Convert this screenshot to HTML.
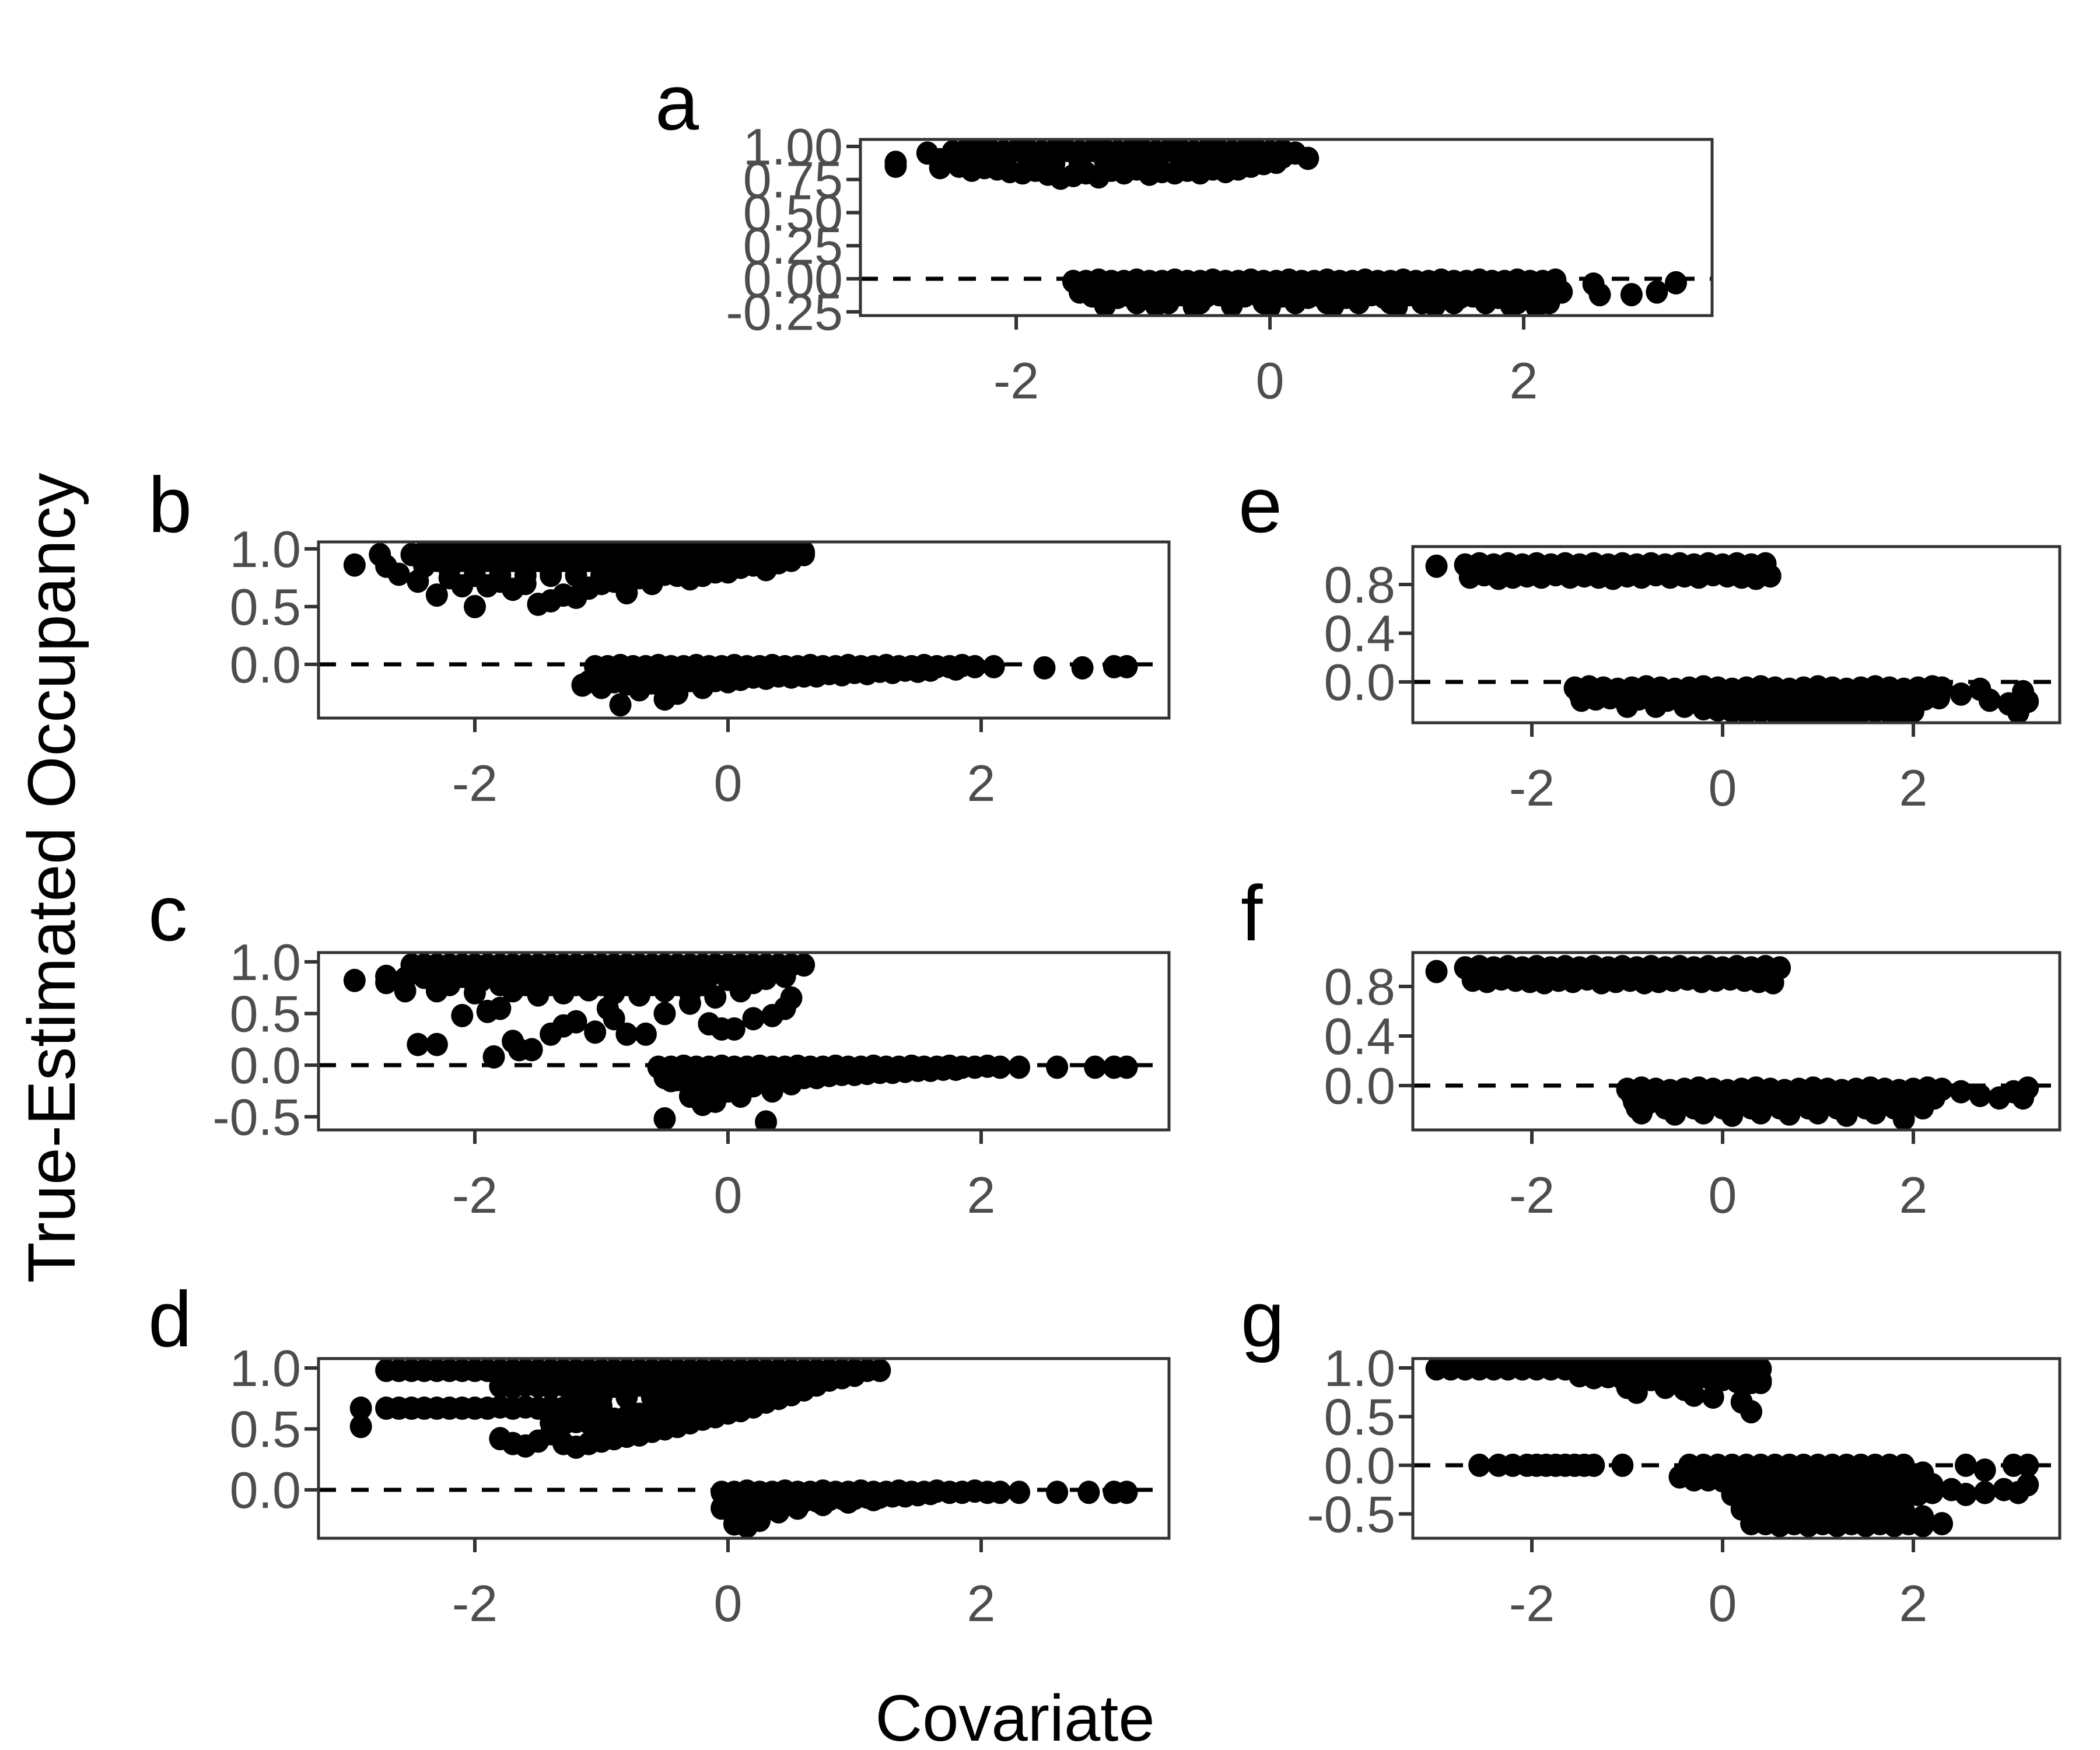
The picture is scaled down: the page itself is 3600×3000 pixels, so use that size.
<!DOCTYPE html>
<html><head><meta charset="utf-8">
<style>
html,body{margin:0;padding:0;background:#fff;}
svg{display:block;font-family:"Liberation Sans",Arial,sans-serif;}
</style></head>
<body>
<svg id="chart" width="3600" height="3000" viewBox="0 0 3600 3000" xmlns="http://www.w3.org/2000/svg">
<rect x="0" y="0" width="3600" height="3000" fill="#fff"/>
<text x="1740" y="2984" font-size="112" text-anchor="middle" fill="#000">Covariate</text>
<text transform="translate(128,1505) rotate(-90)" font-size="115" text-anchor="middle" fill="#000">True-Estimated Occupancy</text>
</svg>
<script>
// ---------- data ----------
const xTickValues=[-2,0,2];
const xTickLabels=["-2","0","2"];
const aTickValues=[1,0.75,0.5,0.25,0,-0.25];
const aTickLabels=["1.00","0.75","0.50","0.25","0.00","-0.25"];
const bcdTickValues=[1,0.5,0,-0.5];
const bcdTickLabels=["1.0","0.5","0.0","-0.5"];
const efTickValues=[0.8,0.4,0];
const efTickLabels=["0.8","0.4","0.0"];

const aX=[-2.95,-2.7,-2.6,-2.5,-2.4,-2.3,-2.2,-2.1,-2.0,-1.9,-1.8,-1.7,-1.6,-1.5,-1.4,-1.3,-1.2,-1.1,-1.0,-0.9,-0.8,-0.7,-0.6,-0.5,-0.4,-0.3,-0.2,-0.1,0.0,0.1,0.2,0.3,
-2.95,-2.6,-2.45,-2.35,-2.25,-2.15,-2.05,-1.95,-1.85,-1.75,-1.65,-1.55,-1.45,-1.35,-1.25,-1.15,-1.05,-0.95,-0.85,-0.75,-0.65,-0.55,-0.45,-0.35,-0.25,-0.15,-0.05,0.05,
-1.55,-1.45,-1.35,-1.25,-1.15,-1.05,-0.95,-0.85,-0.75,-0.65,-0.55,-0.45,-0.35,-0.25,-0.15,-0.05,0.05,0.15,0.25,0.35,0.45,0.55,0.65,0.75,0.85,0.95,1.05,1.15,1.25,1.35,1.45,1.55,1.65,1.75,1.85,1.95,2.05,2.15,2.25,
-1.5,-1.4,-1.3,-1.2,-1.1,-1.0,-0.9,-0.8,-0.7,-0.6,-0.5,-0.4,-0.3,-0.2,-0.1,0.0,0.1,0.2,0.3,0.4,0.5,0.6,0.7,0.8,0.9,1.0,1.1,1.2,1.3,1.4,1.5,1.6,1.7,1.8,1.9,2.0,2.1,2.2,2.3,
-1.3,-0.9,-0.6,-0.3,0.0,0.5,1.0,1.3,1.9,2.1,2.55,2.6,2.85,3.05,3.2];
const aY=[0.88,0.95,0.9,0.96,0.97,0.97,0.97,0.96,0.97,0.97,0.96,0.97,0.97,0.96,0.97,0.97,0.96,0.97,0.97,0.96,0.97,0.97,0.96,0.97,0.97,0.96,0.97,0.97,0.96,0.97,0.95,0.91,
0.85,0.84,0.85,0.82,0.84,0.83,0.81,0.8,0.82,0.79,0.76,0.78,0.8,0.77,0.82,0.8,0.83,0.79,0.81,0.8,0.82,0.8,0.83,0.81,0.83,0.85,0.87,0.88,
-0.02,-0.02,-0.01,-0.02,-0.02,-0.01,-0.02,-0.02,-0.01,-0.02,-0.02,-0.01,-0.02,-0.02,-0.01,-0.02,-0.02,-0.01,-0.02,-0.02,-0.01,-0.02,-0.02,-0.01,-0.02,-0.02,-0.01,-0.02,-0.02,-0.01,-0.02,-0.02,-0.01,-0.02,-0.02,-0.01,-0.02,-0.02,-0.01,
-0.1,-0.13,-0.12,-0.14,-0.13,-0.12,-0.14,-0.13,-0.12,-0.14,-0.13,-0.12,-0.14,-0.13,-0.12,-0.14,-0.13,-0.12,-0.14,-0.13,-0.12,-0.14,-0.13,-0.12,-0.14,-0.13,-0.12,-0.14,-0.13,-0.12,-0.14,-0.13,-0.12,-0.14,-0.13,-0.12,-0.14,-0.13,-0.1,
-0.2,-0.2,-0.21,-0.2,-0.21,-0.2,-0.21,-0.2,-0.2,-0.21,-0.04,-0.12,-0.12,-0.1,-0.03];
const aFillX=[-2.5,-2.3,-2.1,-1.9,-1.7,-1.5,-1.3,-1.1,-0.9,-0.7,-0.5,-0.3,-0.1,0.1,
-1.5,-1.3,-1.1,-0.9,-0.7,-0.5,-0.3,-0.1,0.1,0.3,0.5,0.7,0.9,1.1,1.3,1.5,1.7,1.9,2.1,
-1.3,-1.05,-0.8,-0.55,-0.3,-0.05,0.2,0.45,0.7,0.95,1.2,1.45,1.7,1.95,2.2];
const aFillY=[0.9,0.89,0.9,0.88,0.87,0.88,0.89,0.88,0.89,0.88,0.9,0.9,0.91,0.92,
-0.07,-0.07,-0.07,-0.07,-0.07,-0.07,-0.07,-0.07,-0.07,-0.07,-0.07,-0.07,-0.07,-0.07,-0.07,-0.07,-0.07,-0.07,-0.07,
-0.18,-0.18,-0.18,-0.18,-0.18,-0.18,-0.18,-0.18,-0.18,-0.18,-0.18,-0.18,-0.18,-0.18,-0.18];

const bX=[-2.5,-2.4,-2.3,-2.2,-2.1,-2.0,-1.9,-1.8,-1.7,-1.6,-1.5,-1.4,-1.3,-1.2,-1.1,-1.0,-0.9,-0.8,-0.7,-0.6,-0.5,-0.4,-0.3,-0.2,-0.1,0.0,0.1,0.2,0.3,0.4,0.5,0.6,
-2.95,-2.75,-2.7,-2.6,-2.45,-2.3,-2.2,-2.1,-2.0,-1.9,-1.8,-1.7,-1.6,-1.5,-1.4,-1.3,-1.2,-1.1,-1.0,-0.9,-0.8,-0.7,-0.6,-0.5,-0.4,-0.3,-0.2,-0.1,0.0,0.1,0.2,0.3,0.4,0.5,0.6,
-2.4,-2.2,-2.0,-1.8,-1.6,-1.4,-1.2,-1.0,-0.8,-0.6,-0.4,-0.2,0.0,0.2,0.4,
-1.05,-0.95,-0.85,-0.75,-0.65,-0.55,-0.45,-0.35,-0.25,-0.15,-0.05,0.05,0.15,0.25,0.35,0.45,0.55,0.65,0.75,0.85,0.95,1.05,1.15,1.25,1.35,1.45,1.55,1.65,1.75,1.85,1.95,2.1,2.5,2.8,3.05,3.15,
-1.1,-1.0,-0.9,-0.8,-0.7,-0.6,-0.5,-0.4,-0.3,-0.2,-0.1,0.0,0.1,0.2,0.3,0.4,0.5,0.6,0.7,0.8,0.9,1.0,1.1,1.2,1.3,1.4,1.5,1.6,
-1.15,-1.0,-0.85,-0.7,-0.5,-0.4,-0.2,0.0,0.3,0.6];
const bY=[0.95,0.97,0.97,0.97,0.97,0.97,0.97,0.97,0.97,0.97,0.97,0.97,0.97,0.97,0.97,0.97,0.97,0.97,0.97,0.97,0.97,0.97,0.97,0.97,0.97,0.97,0.97,0.97,0.97,0.97,0.97,0.97,
0.86,0.95,0.85,0.78,0.72,0.6,0.75,0.68,0.5,0.68,0.72,0.65,0.7,0.52,0.55,0.6,0.58,0.66,0.7,0.72,0.62,0.75,0.7,0.78,0.8,0.74,0.82,0.8,0.85,0.84,0.86,0.82,0.88,0.92,0.95,
0.85,0.82,0.84,0.85,0.83,0.8,0.82,0.84,0.86,0.82,0.88,0.9,0.9,0.92,0.93,
-0.02,-0.02,-0.01,-0.02,-0.02,-0.01,-0.02,-0.02,-0.01,-0.02,-0.02,-0.01,-0.02,-0.02,-0.01,-0.02,-0.02,-0.01,-0.02,-0.02,-0.01,-0.02,-0.02,-0.01,-0.02,-0.02,-0.01,-0.02,-0.02,-0.01,-0.02,-0.02,-0.03,-0.03,-0.02,-0.02,
-0.15,-0.16,-0.15,-0.17,-0.15,-0.16,-0.14,-0.15,-0.14,-0.13,-0.14,-0.12,-0.13,-0.11,-0.12,-0.1,-0.11,-0.09,-0.1,-0.08,-0.09,-0.07,-0.08,-0.06,-0.07,-0.05,-0.06,-0.05,
-0.18,-0.2,-0.35,-0.22,-0.3,-0.25,-0.2,-0.15,-0.12,-0.1];
const bFillX=[-2.3,-2.1,-1.9,-1.7,-1.5,-1.3,-1.1,-0.9,-0.7,-0.5,-0.3,-0.1,0.1,0.3,0.5,
-2.0,-1.8,-1.6,-1.4,-1.2,-1.0,-0.8,-0.6,-0.4,-0.2,0.0,
-1.0,-0.8,-0.6,-0.4,-0.2,0.0,0.2,0.4,0.6,0.8,1.0,1.2,1.4,1.6,1.8];
const bFillY=[0.9,0.9,0.9,0.9,0.9,0.9,0.9,0.9,0.9,0.9,0.9,0.9,0.9,0.9,0.9,
0.77,0.77,0.77,0.77,0.77,0.77,0.77,0.77,0.77,0.77,0.8,
-0.08,-0.08,-0.08,-0.08,-0.08,-0.08,-0.07,-0.07,-0.06,-0.06,-0.05,-0.05,-0.04,-0.04,-0.04];

const cX=[-2.5,-2.4,-2.3,-2.2,-2.1,-2.0,-1.9,-1.8,-1.7,-1.6,-1.5,-1.4,-1.3,-1.2,-1.1,-1.0,-0.9,-0.8,-0.7,-0.6,-0.5,-0.4,-0.3,-0.2,-0.1,0.0,0.1,0.2,0.3,0.4,0.5,0.6,
-2.7,-2.55,-2.4,-2.25,-2.1,-1.95,-1.8,-1.65,-1.5,-1.35,-1.2,-1.05,-0.9,-0.75,-0.6,-0.45,-0.3,-0.15,0.0,0.15,0.3,0.45,
-2.3,-2.0,-1.7,-1.5,-1.3,-1.1,-0.9,-0.7,-0.5,-0.3,-0.1,0.1,
-2.95,-2.7,-2.55,-2.45,-2.3,-2.1,-1.9,-1.85,-1.8,-1.7,-1.65,-1.55,-1.4,-1.3,-1.2,-1.05,-0.95,-0.9,-0.8,-0.65,-0.5,-0.3,-0.15,-0.05,0.05,0.2,0.35,0.45,0.5,
-0.55,-0.45,-0.35,-0.25,-0.15,-0.05,0.05,0.15,0.25,0.35,0.45,0.55,0.65,0.75,0.85,0.95,1.05,1.15,1.25,1.35,1.45,1.55,1.65,1.75,1.85,1.95,2.05,2.15,2.3,2.6,2.9,3.05,3.15,
-0.5,-0.4,-0.3,-0.2,-0.1,0.0,0.1,0.2,0.3,0.4,0.5,0.6,0.7,0.8,0.9,1.0,1.1,1.2,1.3,1.4,1.5,1.6,1.7,1.8,
-0.45,-0.3,-0.2,-0.1,0.0,0.1,0.2,0.35,0.5,0.7,1.0,-0.5,0.3];
const cY=[0.97,0.97,0.97,0.97,0.97,0.97,0.97,0.97,0.97,0.97,0.97,0.97,0.97,0.97,0.97,0.97,0.97,0.97,0.97,0.97,0.97,0.97,0.97,0.97,0.97,0.97,0.97,0.97,0.97,0.97,0.97,0.97,
0.86,0.84,0.85,0.83,0.86,0.82,0.84,0.85,0.83,0.84,0.86,0.82,0.85,0.84,0.83,0.85,0.84,0.86,0.83,0.85,0.84,0.86,
0.72,0.7,0.72,0.68,0.7,0.73,0.7,0.68,0.72,0.7,0.66,0.72,
0.82,0.8,0.72,0.2,0.2,0.48,0.52,0.08,0.55,0.23,0.15,0.15,0.3,0.38,0.42,0.32,0.55,0.45,0.3,0.3,0.5,0.6,0.4,0.35,0.35,0.45,0.48,0.55,0.65,
-0.02,-0.02,-0.01,-0.02,-0.02,-0.01,-0.02,-0.02,-0.01,-0.02,-0.02,-0.01,-0.02,-0.02,-0.01,-0.02,-0.02,-0.01,-0.02,-0.02,-0.01,-0.02,-0.02,-0.01,-0.02,-0.02,-0.01,-0.02,-0.02,-0.02,-0.02,-0.02,-0.02,
-0.12,-0.14,-0.16,-0.18,-0.17,-0.16,-0.18,-0.15,-0.16,-0.14,-0.13,-0.12,-0.11,-0.1,-0.09,-0.09,-0.08,-0.07,-0.07,-0.06,-0.05,-0.05,-0.04,-0.04,
-0.15,-0.3,-0.38,-0.35,-0.25,-0.3,-0.2,-0.25,-0.18,-0.12,-0.08,-0.52,-0.55];
const cFillX=[-2.4,-2.2,-2.0,-1.8,-1.6,-1.4,-1.2,-1.0,-0.8,-0.6,-0.4,-0.2,0.0,0.2,0.4,
-2.2,-2.0,-1.8,-1.6,-1.4,-1.2,-1.0,-0.8,-0.6,-0.4,-0.2,0.2,
-0.5,-0.3,-0.1,0.1,0.3,0.5,0.7,0.9,1.1,1.3,1.5,1.7];
const cFillY=[0.91,0.91,0.91,0.91,0.91,0.91,0.91,0.91,0.91,0.91,0.91,0.91,0.91,0.91,0.91,
0.78,0.78,0.78,0.78,0.78,0.78,0.78,0.78,0.78,0.78,0.78,0.8,
-0.07,-0.08,-0.08,-0.08,-0.07,-0.06,-0.05,-0.05,-0.04,-0.04,-0.03,-0.03];

const dX=[-2.7,-2.6,-2.5,-2.4,-2.3,-2.2,-2.1,-2.0,-1.9,-1.8,-1.7,-1.6,-1.5,-1.4,-1.3,-1.2,-1.1,-1.0,-0.9,-0.8,-0.7,-0.6,-0.5,-0.4,-0.3,-0.2,-0.1,0.0,0.1,0.2,0.3,0.4,0.5,0.6,0.7,0.8,0.9,1.0,1.1,1.2,
-2.9,-2.9,-2.7,-2.6,-2.5,-2.4,-2.3,-2.2,-2.1,-2.0,-1.9,-1.8,-1.7,-1.6,-1.5,-1.4,-1.3,-1.2,-1.1,-1.0,
-1.8,-1.7,-1.6,-1.5,-1.4,-1.3,-1.2,-1.1,-1.0,-0.9,-0.8,-0.7,-0.6,-0.5,-0.4,-0.3,-0.2,-0.1,0.0,0.1,0.2,0.3,0.4,0.5,0.6,0.7,0.8,0.9,1.0,
-1.8,-1.7,-1.6,-1.5,-1.4,-1.3,-1.2,-1.1,-1.0,-0.9,-0.8,-0.7,-0.6,-0.5,-0.4,-0.3,-0.2,-0.1,0.0,0.1,0.2,0.3,0.4,0.5,0.6,0.7,0.8,0.9,1.0,
-1.4,-1.3,-1.2,-1.1,-1.0,-0.9,-0.8,-0.7,-0.6,-0.5,-0.4,-0.3,-0.2,-0.1,0.0,0.1,0.2,0.3,
-0.05,0.05,0.15,0.25,0.35,0.45,0.55,0.65,0.75,0.85,0.95,1.05,1.15,1.25,1.35,1.45,1.55,1.65,1.75,1.85,1.95,2.05,2.15,2.3,2.6,2.85,3.05,3.15,
0.0,0.1,0.2,0.3,0.4,0.5,0.6,0.7,0.8,0.9,1.0,1.1,1.2,1.3,1.4,1.5,
-0.05,0.05,0.15,0.25,0.4,0.55,0.75,0.95,1.15];
const dY=[0.98,0.98,0.98,0.98,0.98,0.98,0.98,0.98,0.98,0.98,0.98,0.98,0.98,0.98,0.98,0.98,0.98,0.98,0.98,0.98,0.98,0.98,0.98,0.98,0.98,0.98,0.98,0.98,0.98,0.98,0.98,0.98,0.98,0.98,0.98,0.98,0.98,0.98,0.98,0.98,
0.67,0.52,0.67,0.67,0.67,0.67,0.67,0.67,0.67,0.67,0.67,0.68,0.67,0.68,0.67,0.68,0.67,0.68,0.68,0.69,
0.85,0.84,0.86,0.85,0.84,0.86,0.85,0.84,0.86,0.85,0.84,0.86,0.85,0.84,0.86,0.85,0.84,0.86,0.85,0.84,0.86,0.87,0.88,0.88,0.9,0.92,0.93,0.95,0.96,
0.42,0.38,0.36,0.4,0.46,0.38,0.35,0.38,0.4,0.42,0.44,0.45,0.48,0.5,0.52,0.55,0.58,0.6,0.63,0.65,0.68,0.72,0.75,0.78,0.82,0.86,0.9,0.92,0.95,
0.55,0.54,0.56,0.55,0.57,0.58,0.6,0.62,0.64,0.66,0.7,0.72,0.74,0.76,0.78,0.8,0.82,0.84,
-0.02,-0.02,-0.01,-0.02,-0.02,-0.01,-0.02,-0.02,-0.01,-0.02,-0.02,-0.01,-0.02,-0.02,-0.01,-0.02,-0.02,-0.01,-0.02,-0.02,-0.01,-0.02,-0.02,-0.02,-0.02,-0.02,-0.02,-0.02,
-0.12,-0.14,-0.13,-0.12,-0.11,-0.1,-0.09,-0.09,-0.08,-0.07,-0.07,-0.06,-0.06,-0.05,-0.05,-0.04,
-0.15,-0.28,-0.3,-0.25,-0.18,-0.15,-0.12,-0.1,-0.08];
const dFillX=[-1.6,-1.4,-1.2,-1.0,-0.8,-0.6,-0.4,-0.2,0.0,0.2,0.4,0.6,0.8,1.0,
-1.2,-1.0,-0.8,-0.6,-0.4,-0.2,0.0,0.2,0.4,
-1.0,-0.8,-0.6,-0.4,-0.2,
0.0,0.2,0.4,0.6,0.8,1.0,1.2,1.4,1.6];
const dFillY=[0.91,0.91,0.91,0.91,0.91,0.91,0.91,0.91,0.91,0.91,0.91,0.92,0.93,0.94,
0.76,0.76,0.76,0.76,0.76,0.76,0.78,0.8,0.82,
0.48,0.5,0.55,0.6,0.65,
-0.07,-0.08,-0.07,-0.06,-0.05,-0.05,-0.04,-0.04,-0.03];

const eX=[-2.7,-2.55,-2.4,-2.25,-2.1,-1.95,-1.8,-1.65,-1.5,-1.35,-1.2,-1.05,-0.9,-0.75,-0.6,-0.45,-0.3,-0.15,0.0,0.15,0.3,0.45,
-2.65,-2.5,-2.35,-2.2,-2.05,-1.9,-1.75,-1.6,-1.45,-1.3,-1.15,-1.0,-0.85,-0.7,-0.55,-0.4,-0.25,-0.1,0.05,0.2,0.35,0.5,-3.0,
-1.55,-1.4,-1.25,-1.1,-0.95,-0.8,-0.65,-0.5,-0.35,-0.2,-0.05,0.1,0.25,0.4,0.55,0.7,0.85,1.0,1.15,1.3,1.45,1.6,1.75,1.9,2.05,2.2,
-1.48,-1.33,-1.18,-1.03,-0.88,-0.73,-0.58,-0.43,-0.28,-0.13,0.02,0.17,0.32,0.47,0.62,0.77,0.92,1.07,1.22,1.37,1.52,1.67,1.82,1.97,2.12,2.27,
-0.2,-0.05,0.1,0.25,0.4,0.55,0.7,0.85,1.0,1.15,1.3,1.45,1.6,1.75,1.9,2.0,
2.3,2.5,2.7,2.8,3.0,3.15,3.2,3.1];
const eY=[0.96,0.97,0.96,0.97,0.96,0.97,0.96,0.97,0.96,0.97,0.96,0.97,0.96,0.97,0.96,0.97,0.96,0.97,0.96,0.97,0.96,0.97,
0.86,0.88,0.85,0.86,0.87,0.86,0.88,0.86,0.87,0.86,0.85,0.87,0.86,0.88,0.86,0.87,0.86,0.88,0.87,0.86,0.85,0.87,0.95,
-0.05,-0.04,-0.05,-0.06,-0.05,-0.04,-0.05,-0.06,-0.05,-0.04,-0.05,-0.06,-0.05,-0.04,-0.05,-0.06,-0.05,-0.04,-0.05,-0.06,-0.05,-0.04,-0.05,-0.06,-0.05,-0.04,
-0.15,-0.14,-0.13,-0.15,-0.14,-0.13,-0.15,-0.14,-0.13,-0.15,-0.14,-0.16,-0.15,-0.17,-0.16,-0.18,-0.17,-0.16,-0.18,-0.17,-0.16,-0.15,-0.17,-0.16,-0.14,-0.13,
-0.22,-0.23,-0.24,-0.25,-0.24,-0.25,-0.26,-0.25,-0.26,-0.25,-0.26,-0.25,-0.24,-0.25,-0.26,-0.24,
-0.05,-0.1,-0.06,-0.15,-0.18,-0.08,-0.16,-0.25];
const eFillX=[-2.6,-2.3,-2.0,-1.7,-1.4,-1.1,-0.8,-0.5,-0.2,0.1,0.4,
-1.5,-1.2,-0.9,-0.6,-0.3,0.0,0.3,0.6,0.9,1.2,1.5,1.8,2.1,
-1.0,-0.7,-0.4,-0.1,0.2,0.5,0.8,1.1,1.4,1.7,2.0];
const eFillY=[0.92,0.92,0.92,0.92,0.92,0.92,0.92,0.92,0.92,0.92,0.92,
-0.1,-0.1,-0.1,-0.1,-0.1,-0.1,-0.1,-0.1,-0.1,-0.1,-0.1,-0.1,-0.1,
-0.2,-0.2,-0.2,-0.2,-0.2,-0.2,-0.2,-0.2,-0.2,-0.2,-0.2];

const fX=[-2.7,-2.55,-2.4,-2.25,-2.1,-1.95,-1.8,-1.65,-1.5,-1.35,-1.2,-1.05,-0.9,-0.75,-0.6,-0.45,-0.3,-0.15,0.0,0.15,0.3,0.45,0.6,
-2.62,-2.47,-2.32,-2.17,-2.02,-1.87,-1.72,-1.57,-1.42,-1.27,-1.12,-0.97,-0.82,-0.67,-0.52,-0.37,-0.22,-0.07,0.08,0.23,0.38,0.53,-3.0,
-1.0,-0.85,-0.7,-0.55,-0.4,-0.25,-0.1,0.05,0.2,0.35,0.5,0.65,0.8,0.95,1.1,1.25,1.4,1.55,1.7,1.85,2.0,2.15,2.3,
-0.93,-0.78,-0.63,-0.48,-0.33,-0.18,-0.03,0.12,0.27,0.42,0.57,0.72,0.87,1.02,1.17,1.32,1.47,1.62,1.77,1.92,2.07,2.22,
-0.85,-0.5,-0.2,0.1,0.4,0.7,1.0,1.3,1.6,1.9,
2.5,2.7,2.9,3.05,3.15,3.2];
const fY=[0.95,0.96,0.95,0.96,0.95,0.96,0.95,0.96,0.95,0.96,0.95,0.96,0.95,0.96,0.95,0.96,0.95,0.96,0.95,0.96,0.95,0.96,0.95,
0.85,0.84,0.86,0.85,0.84,0.83,0.85,0.84,0.86,0.83,0.84,0.85,0.83,0.84,0.85,0.86,0.84,0.85,0.86,0.85,0.84,0.83,0.92,
-0.03,-0.02,-0.03,-0.04,-0.03,-0.02,-0.03,-0.04,-0.03,-0.02,-0.03,-0.04,-0.03,-0.02,-0.03,-0.04,-0.03,-0.02,-0.03,-0.04,-0.03,-0.02,-0.03,
-0.13,-0.14,-0.12,-0.13,-0.14,-0.12,-0.13,-0.14,-0.12,-0.13,-0.14,-0.12,-0.13,-0.14,-0.12,-0.13,-0.14,-0.12,-0.13,-0.14,-0.12,-0.1,
-0.22,-0.23,-0.22,-0.24,-0.22,-0.23,-0.22,-0.24,-0.22,-0.27,
-0.05,-0.08,-0.1,-0.05,-0.1,-0.02];
const fFillX=[-2.6,-2.3,-2.0,-1.7,-1.4,-1.1,-0.8,-0.5,-0.2,0.1,0.4,
-0.95,-0.65,-0.35,-0.05,0.25,0.55,0.85,1.15,1.45,1.75,2.05,
-0.9,-0.6,-0.3,0.0,0.3,0.6,0.9,1.2,1.5,1.8,2.1];
const fFillY=[0.9,0.9,0.9,0.9,0.9,0.9,0.9,0.9,0.9,0.9,0.9,
-0.08,-0.08,-0.08,-0.08,-0.08,-0.08,-0.08,-0.08,-0.08,-0.08,-0.08,
-0.18,-0.18,-0.18,-0.18,-0.18,-0.18,-0.18,-0.18,-0.18,-0.18,-0.18];

const gX=[-3.0,-2.85,-2.7,-2.55,-2.4,-2.25,-2.1,-1.95,-1.8,-1.65,-1.5,-1.35,-1.2,-1.05,-0.9,-0.75,-0.6,-0.45,-0.3,-0.15,0.0,0.15,0.3,0.4,
-1.5,-1.35,-1.2,-1.05,-0.9,-0.75,-0.6,-0.45,-0.3,-0.15,0.0,0.15,0.3,0.4,
-1.0,-0.9,-0.6,-0.4,-0.3,-0.1,0.2,0.3,0.4,
-2.55,-2.35,-2.2,-2.05,-1.95,-1.85,-1.75,-1.65,-1.55,-1.45,-1.35,-1.05,
-0.35,-0.2,-0.05,0.1,0.25,0.4,0.55,0.7,0.85,1.0,1.15,1.3,1.45,1.6,1.75,1.9,
-0.45,-0.3,-0.15,0.0,0.15,0.3,0.45,0.6,0.75,0.9,1.05,1.2,1.35,1.5,1.65,1.8,1.95,2.1,
0.1,0.25,0.4,0.55,0.7,0.85,1.0,1.15,1.3,1.45,1.6,1.75,1.9,2.05,2.2,
0.2,0.35,0.5,0.65,0.8,0.95,1.1,1.25,1.4,1.55,1.7,1.9,
0.3,0.45,0.6,0.75,0.9,1.05,1.2,1.35,1.5,1.65,1.8,1.95,2.1,2.3,
2.2,2.4,2.55,2.55,2.75,2.75,2.95,3.05,3.1,3.2,3.2];
const gY=[0.99,0.99,0.99,0.99,0.99,0.99,0.99,0.99,0.99,0.99,0.99,0.99,0.99,0.99,0.99,0.99,0.99,0.99,0.99,0.99,0.99,0.99,0.99,0.99,
0.92,0.9,0.91,0.89,0.9,0.88,0.9,0.89,0.88,0.9,0.88,0.86,0.85,0.87,
0.8,0.75,0.8,0.78,0.72,0.7,0.65,0.55,0.85,
0,0,0,0,0,0,0,0,0,0,0,0,
0,0,0,0,0,0,0,0,0,0,0,0,0,0,0,0,
-0.12,-0.15,-0.15,-0.16,-0.15,-0.16,-0.15,-0.16,-0.15,-0.16,-0.15,-0.16,-0.15,-0.16,-0.15,-0.16,-0.15,-0.12,
-0.3,-0.3,-0.31,-0.3,-0.31,-0.3,-0.31,-0.3,-0.31,-0.3,-0.31,-0.3,-0.31,-0.3,-0.28,
-0.45,-0.46,-0.45,-0.46,-0.45,-0.46,-0.45,-0.46,-0.45,-0.46,-0.45,-0.46,
-0.6,-0.6,-0.62,-0.6,-0.62,-0.6,-0.62,-0.6,-0.62,-0.6,-0.62,-0.6,-0.62,-0.6,
-0.2,-0.25,0.0,-0.3,-0.05,-0.28,-0.25,0.0,-0.28,0.0,-0.2];
const gFillX=[-0.1,0.1,0.3,0.5,0.7,0.9,1.1,1.3,1.5,1.7,1.9,2.1,
0.1,0.3,0.5,0.7,0.9,1.1,1.3,1.5,1.7,1.9,
0.2,0.4,0.6,0.8,1.0,1.2,1.4,1.6,1.8,
0.3,0.5,0.7,0.9,1.1,1.3,1.5,1.7,1.9,2.1];
const gFillY=[-0.07,-0.07,-0.07,-0.07,-0.07,-0.07,-0.07,-0.07,-0.07,-0.07,-0.07,-0.08,
-0.22,-0.22,-0.22,-0.22,-0.22,-0.22,-0.22,-0.22,-0.22,-0.22,
-0.38,-0.38,-0.38,-0.38,-0.38,-0.38,-0.38,-0.38,-0.38,
-0.53,-0.53,-0.53,-0.53,-0.53,-0.53,-0.53,-0.53,-0.53,-0.53];

// ---------- layout ----------
const panels=[
 {id:'a',xs:aX.concat(aFillX),ys:aY.concat(aFillY),l:1475,r:2935,t:239,b:541,xd:[-3.228,3.485],yd:[-0.278,1.053],tv:aTickValues,tl:aTickLabels,lx:1123,ly:222},
 {id:'b',xs:bX.concat(bFillX),ys:bY.concat(bFillY),l:546,r:2004,t:929,b:1231,xd:[-3.235,3.484],yd:[-0.465,1.06],tv:bcdTickValues.slice(0,3),tl:bcdTickLabels.slice(0,3),lx:254,ly:912},
 {id:'c',xs:cX.concat(cFillX),ys:cY.concat(cFillY),l:546,r:2004,t:1633,b:1937,xd:[-3.235,3.484],yd:[-0.627,1.09],tv:bcdTickValues,tl:bcdTickLabels,lx:254,ly:1612},
 {id:'d',xs:dX.concat(dFillX),ys:dY.concat(dFillY),l:546,r:2004,t:2329,b:2637,xd:[-3.235,3.484],yd:[-0.397,1.077],tv:bcdTickValues.slice(0,3),tl:bcdTickLabels.slice(0,3),lx:254,ly:2308},
 {id:'e',xs:eX.concat(eFillX),ys:eY.concat(eFillY),l:2422,r:3531,t:937,b:1239,xd:[-3.248,3.535],yd:[-0.335,1.111],tv:efTickValues,tl:efTickLabels,lx:2123,ly:912},
 {id:'f',xs:fX.concat(fFillX),ys:fY.concat(fFillY),l:2422,r:3531,t:1633,b:1937,xd:[-3.248,3.535],yd:[-0.358,1.073],tv:efTickValues,tl:efTickLabels,lx:2127,ly:1612},
 {id:'g',xs:gX.concat(gFillX),ys:gY.concat(gFillY),l:2422,r:3531,t:2329,b:2637,xd:[-3.248,3.535],yd:[-0.75,1.096],tv:bcdTickValues,tl:bcdTickLabels,lx:2127,ly:2308}
];
const NS='http://www.w3.org/2000/svg';
const svg=document.getElementById('chart');
function mk(tag,attrs,parent){const e=document.createElementNS(NS,tag);for(const k in attrs)e.setAttribute(k,attrs[k]);(parent||svg).appendChild(e);return e;}
panels.forEach(p=>{
 const sx=v=>p.l+(v-p.xd[0])/(p.xd[1]-p.xd[0])*(p.r-p.l);
 const sy=v=>p.b-(v-p.yd[0])/(p.yd[1]-p.yd[0])*(p.b-p.t);
 const g=mk('g',{});
 
 
 const cid='clip-'+p.id;
 const cp=mk('clipPath',{id:cid},g);
 mk('rect',{x:p.l,y:p.t,width:p.r-p.l,height:p.b-p.t},cp);
 const zl=mk('line',{x1:p.l,x2:p.r,y1:sy(0),y2:sy(0),stroke:'#000','stroke-width':7,'stroke-dasharray':'30,26'},g);
 
 
 const pg=mk('g',{'clip-path':'url(#'+cid+')'},g);
 
 
 const n=Math.min(p.xs.length,p.ys.length);
 for(let i=0;i<n;i++){
  const c=mk('ellipse',{cx:sx(p.xs[i]),cy:sy(p.ys[i]),rx:19,ry:20,fill:'#000'},pg);
  
  
 }
 const fr=mk('rect',{x:p.l,y:p.t,width:p.r-p.l,height:p.b-p.t,fill:'none',stroke:'#333','stroke-width':5},g);
 
 
 p.tv.forEach((v,i)=>{
  const y=sy(v);
  const tk=mk('line',{x1:p.l-24,x2:p.l,y1:y,y2:y,stroke:'#333','stroke-width':6},g);
  
  
  const t=mk('text',{x:p.l-30,y:y+31,'font-size':88,'text-anchor':'end',fill:'#4d4d4d'},g);
  t.textContent=p.tl[i];
  
  
 });
 xTickValues.forEach((v,i)=>{
  const x=sx(v);
  const tk=mk('line',{x1:x,x2:x,y1:p.b,y2:p.b+24,stroke:'#333','stroke-width':6},g);
  
  
  const t=mk('text',{x:x,y:p.b+142,'font-size':88,'text-anchor':'middle',fill:'#4d4d4d'},g);
  t.textContent=xTickLabels[i];
  
  
 });
 const lb=mk('text',{x:p.lx,y:p.ly,'font-size':135,fill:'#000'},g);
 lb.textContent=p.id;
 
 
});
</script>
</body></html>
